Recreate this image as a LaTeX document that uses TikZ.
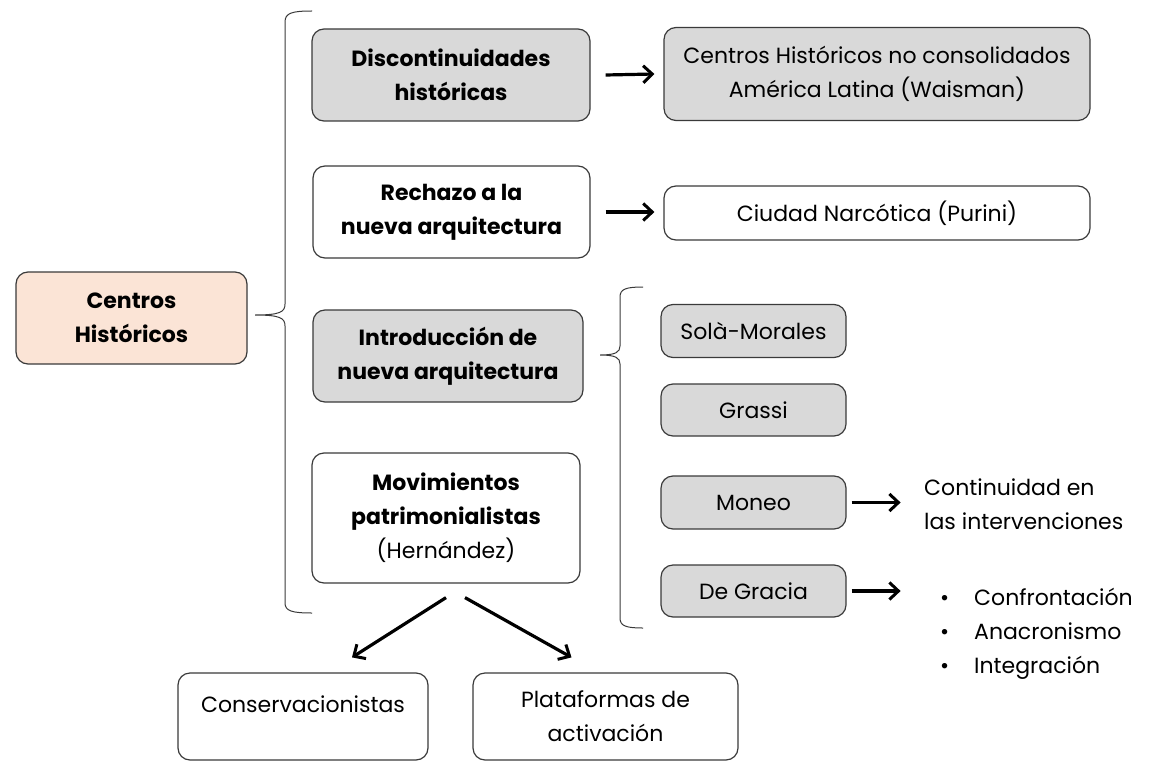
\documentclass[tikz,border=0pt]{standalone}
\usepackage{fontspec}
\setmainfont{Poppins}
\usetikzlibrary{arrows.meta}
\definecolor{graybox}{HTML}{D9D9D9}
\definecolor{peach}{HTML}{FBE4D6}
\definecolor{edge}{HTML}{3A3A3A}
\tikzset{
  box/.style={draw=edge, line width=1.2pt, rounded corners=12pt, align=center, inner sep=0pt, font=\fontsize{22}{34}\selectfont},
  gbox/.style={box, fill=graybox},
  wbox/.style={box, fill=white},
  arr/.style={line width=3.2pt, -{Straight Barb[length=9pt,width=17pt,line width=3pt]}},
  brace/.style={draw=edge, line width=1pt},
  plain/.style={align=left, inner sep=0pt, font=\fontsize{22}{34}\selectfont}
}
\begin{document}
\begin{tikzpicture}[x=1pt,y=-1pt]
\useasboundingbox (0,0) rectangle (1158,765);
% main
\node[box, fill=peach, minimum width=231pt, minimum height=92pt] (ch) at (131.5,318) {\bfseries Centros\\\bfseries Históricos};
% level 1
\node[gbox, minimum width=278pt, minimum height=92pt] (disc) at (451,75) {\bfseries Discontinuidades\\\bfseries históricas};
\node[wbox, minimum width=277pt, minimum height=92pt] (rech) at (451.5,212) {\bfseries Rechazo a la\\\bfseries nueva arquitectura};
\node[gbox, minimum width=270pt, minimum height=92pt] (intro) at (448,356) {\bfseries Introducción de\\\bfseries nueva arquitectura};
\node[wbox, minimum width=268pt, minimum height=130pt] (mov) at (446,518) {\bfseries Movimientos\\\bfseries patrimonialistas\\(Hernández)};
% right column
\node[gbox, minimum width=426pt, minimum height=93pt] (cnc) at (877,74) {Centros Históricos no consolidados\\América Latina (Waisman)};
\node[wbox, minimum width=426pt, minimum height=54pt] (ciu) at (877,213) {Ciudad Narcótica (Purini)};
% authors
\node[gbox, minimum width=185pt, minimum height=53pt] (sola) at (753.5,331) {Solà-Morales};
\node[gbox, minimum width=185pt, minimum height=52pt] (gras) at (753.5,410) {Grassi};
\node[gbox, minimum width=185pt, minimum height=53pt] (mon) at (753.5,502.5) {Moneo};
\node[gbox, minimum width=185pt, minimum height=52pt] (deg) at (753.5,591) {De Gracia};
\node[plain, anchor=west] (cont) at (924,504) {Continuidad en\\las intervenciones};
\node[plain, anchor=north west] (bul) at (940,588) {%
\makebox[34pt][l]{\textbullet}Confrontación\\
\makebox[34pt][l]{\textbullet}Anacronismo\\
\makebox[34pt][l]{\textbullet}Integración};
% bottom
\node[wbox, minimum width=250pt, minimum height=87pt] (cons) at (303,716.5) {};
\node[font=\fontsize{22}{34}\selectfont] (constext) at (303,704) {Conservacionistas};
\node[wbox, minimum width=265pt, minimum height=87pt] (plat) at (605.5,716.5) {Plataformas de\\activación};
% arrows
\draw[arr] ([xshift=15pt]disc.east) -- ([xshift=-9pt]cnc.west);
\draw[arr] ([xshift=15pt]rech.east) -- ([xshift=-9pt]rech.east -| cnc.west);
\draw[arr] ([xshift=5pt]mon.east) -- ([xshift=54pt]mon.east);
\draw[arr] ([xshift=5pt]deg.east) -- ([xshift=54pt]deg.east);
\draw[arr] ([xshift=0pt,yshift=-14pt]mov.south) -- ([xshift=49pt,yshift=15pt]cons.north);
\draw[arr] ([xshift=19pt,yshift=-14pt]mov.south) -- ([xshift=-34pt,yshift=15pt]plat.north);
% big brace
\draw[brace] (312,11) .. controls (292,11) and (285,13) .. (285,22) -- (285,304)
  .. controls (285,312) and (280,315) .. (255,315)
  .. controls (280,315) and (285,318) .. (285,326) -- (285,603)
  .. controls (285,611) and (292,613) .. (312,613);
% small brace
\draw[brace] (643,287) .. controls (626,287) and (620,289) .. (620,297) -- (620,346)
  .. controls (620,352) and (616,355) .. (600,355)
  .. controls (616,355) and (620,358) .. (620,364) -- (620,618)
  .. controls (620,626) and (626,628) .. (643,628);
\end{tikzpicture}
\end{document}
